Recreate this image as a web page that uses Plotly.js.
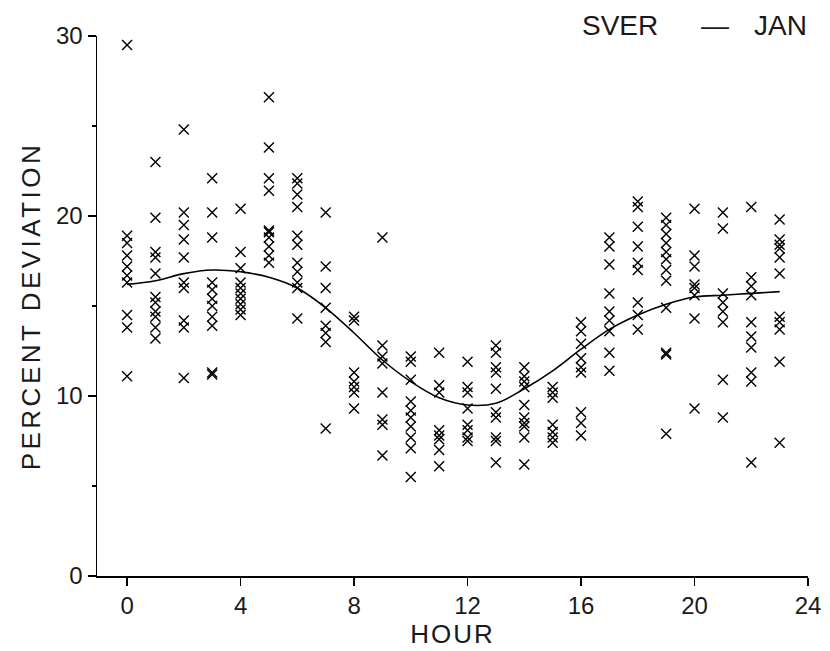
<!DOCTYPE html>
<html>
<head>
<meta charset="utf-8">
<script src="https://cdn.plot.ly/plotly-3.0.1.min.js"></script>
<style>
html,body{margin:0;padding:0;background:#fff;}
#chart{width:830px;height:651px;}
#chart text.ytitle{letter-spacing:3.5px;}
#chart text.xtitle{letter-spacing:2px;}
</style>
</head>
<body>
<div id="chart"></div>
<script>
// Observed percent deviations per hour
const h0 = [29.5, 18.9, 18.5, 17.8, 17.2, 16.7, 16.3, 14.5, 13.8, 11.1];
const h1 = [23.0, 19.9, 18.0, 17.7, 16.8, 15.5, 15.2, 14.7, 14.4, 13.8, 13.2];
const h2 = [24.8, 20.2, 19.5, 18.7, 17.7, 16.3, 16.0, 14.2, 13.8, 11.0];
const h3 = [22.1, 20.2, 18.8, 16.3, 15.9, 15.4, 15.0, 14.4, 13.9, 11.3, 11.2];
const h4 = [20.4, 18.0, 17.1, 16.3, 16.0, 15.7, 15.4, 15.1, 14.8, 14.5];
const h5 = [26.6, 23.8, 22.1, 21.4, 19.2, 19.1, 18.8, 18.3, 17.8, 17.4];
const h6 = [22.1, 21.8, 21.2, 20.5, 18.9, 18.4, 17.4, 16.9, 16.3, 16.0, 14.3];
const h7 = [20.2, 17.2, 16.0, 14.9, 13.9, 13.5, 13.0, 8.2];
const h8 = [14.4, 14.2, 11.3, 10.8, 10.5, 10.2, 9.3];
const h9 = [18.8, 12.8, 12.2, 11.8, 10.2, 8.7, 8.4, 6.7];
const h10 = [12.2, 11.9, 10.9, 9.7, 9.2, 8.8, 8.3, 7.7, 7.1, 5.5];
const h11 = [12.4, 10.6, 10.2, 8.1, 7.8, 7.6, 7.0, 6.1];
const h12 = [11.9, 10.5, 10.2, 9.3, 8.4, 8.1, 7.7, 7.5];
const h13 = [12.8, 12.4, 11.6, 11.3, 10.4, 9.1, 8.8, 7.7, 7.5, 6.3];
const h14 = [11.6, 11.1, 10.8, 10.5, 9.5, 8.8, 8.5, 8.3, 7.7, 6.2];
const h15 = [10.5, 10.2, 9.9, 8.4, 8.0, 7.7, 7.4];
const h16 = [14.1, 13.6, 12.9, 12.1, 11.6, 11.3, 9.1, 8.5, 7.8];
const h17 = [18.8, 18.3, 17.3, 15.7, 14.7, 14.2, 13.6, 12.4, 11.4];
const h18 = [20.8, 20.5, 19.4, 18.3, 17.4, 17.0, 15.2, 14.5, 13.7];
const h19 = [19.9, 19.5, 19.0, 18.5, 18.0, 17.6, 17.0, 16.4, 14.9, 12.4, 12.3, 7.9];
const h20 = [20.4, 17.8, 17.2, 16.2, 16.0, 15.6, 14.3, 9.3];
const h21 = [20.2, 19.3, 15.7, 15.2, 14.7, 14.1, 10.9, 8.8];
const h22 = [20.5, 16.6, 16.1, 15.6, 14.1, 13.3, 12.7, 11.3, 10.8, 6.3];
const h23 = [19.8, 18.7, 18.4, 18.2, 17.7, 16.8, 14.4, 14.1, 13.7, 11.9, 7.4];
const observations = [h0,h1,h2,h3,h4,h5,h6,h7,h8,h9,h10,h11,h12,h13,h14,h15,h16,h17,h18,h19,h20,h21,h22,h23];

// Fitted curve
const fitHours = [0,1,2,3,4,5,6,7,8,9,10,11,12,13,14,15,16,17,18,19,20,21,22,23];
const fitValues = [16.2,16.4,16.8,17.0,16.9,16.6,16.0,14.9,13.5,12.0,10.8,9.9,9.5,9.6,10.4,11.4,12.6,13.7,14.5,15.1,15.5,15.6,15.7,15.8];

const xTicks = [0,4,8,12,16,20,24];
const yTicks = [0,10,20,30];
const titleParts = ['SVER', '—', 'JAN'];

const px = [], py = [];
observations.forEach((vals, hr) => vals.forEach(v => { px.push(hr); py.push(v); }));

const FONT = 'Liberation Sans, Arial, sans-serif';
const TXT = '#1a1a1a';

const traces = [
  {x: px, y: py, type: 'scatter', mode: 'markers',
   marker: {symbol: 'x-thin-open', size: 10, color: '#000', line: {color: '#000', width: 1.4}},
   hoverinfo: 'x+y', showlegend: false},
  {x: fitHours, y: fitValues, type: 'scatter', mode: 'lines',
   line: {color: '#000', width: 1.6, shape: 'spline', smoothing: 1.0},
   showlegend: false}
];

const titleX = [0.7356, 0.869, 0.962];

const layout = {
  width: 830, height: 651,
  margin: {l: 97, r: 22, t: 36, b: 75},
  paper_bgcolor: '#fff', plot_bgcolor: '#fff',
  font: {family: FONT, color: TXT, size: 24},
  xaxis: {
    range: [-1.06, 24], tickvals: xTicks, ticktext: xTicks.map(String),
    ticks: 'outside', ticklen: 8, tickwidth: 1.2, tickcolor: '#000',
    showline: true, linecolor: '#000', linewidth: 1.5,
    showgrid: false, zeroline: false,
    tickfont: {family: FONT, size: 24, color: TXT},
    title: {text: 'HOUR', font: {family: FONT, size: 26, color: TXT}, standoff: 4}
  },
  yaxis: {
    range: [0, 30], tickvals: yTicks, ticktext: yTicks.map(String),
    ticks: 'outside', ticklen: 8, tickwidth: 1.2, tickcolor: '#000',
    minor: {tickvals: [5,15,25], ticks: 'outside', ticklen: 4, tickcolor: '#000'},
    showline: true, linecolor: '#000', linewidth: 1.5,
    showgrid: false, zeroline: false,
    tickfont: {family: FONT, size: 24, color: TXT},
    title: {text: 'PERCENT DEVIATION', font: {family: FONT, size: 26, color: TXT}, standoff: 8}
  },
  annotations: titleParts.map((t, i) => ({
    text: t, xref: 'paper', yref: 'paper', x: titleX[i], y: 1.0,
    xanchor: 'center', yanchor: 'middle', yshift: 11, showarrow: false,
    font: {family: FONT, size: 28, color: TXT}
  }))
};

Plotly.newPlot('chart', traces, layout, {displayModeBar: false, staticPlot: true});
</script>
</body>
</html>
